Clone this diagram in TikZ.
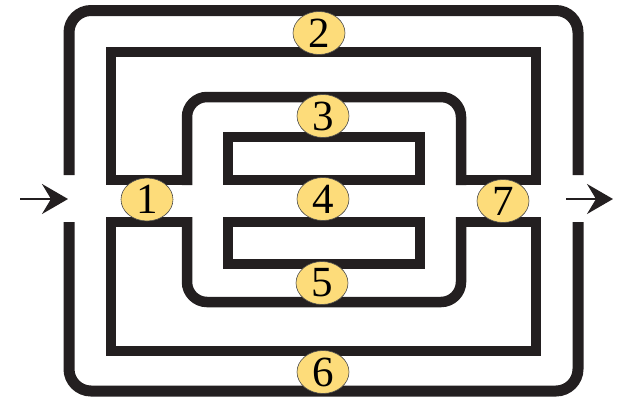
\documentclass[tikz,border=0pt]{standalone}
\usepackage{fontspec}
\setmainfont{Liberation Serif}
\usetikzlibrary{shapes.geometric,arrows.meta}
\definecolor{wallc}{HTML}{231F20}
\definecolor{badgefill}{HTML}{FDDC7A}
\begin{document}
\begin{tikzpicture}[x=1pt,y=-1pt,
  wall/.style={draw=wallc,line width=10.5pt,line join=miter},
  arch/.style={draw=wallc,line width=10.5pt,rounded corners=20pt},
  outerwall/.style={draw=wallc,line width=11pt,rounded corners=22pt},
  badge/.style={ellipse,draw=black!70,line width=0.6pt,fill=badgefill,
    minimum width=52pt,minimum height=43pt,inner sep=0pt,
    font=\fontsize{43}{43}\selectfont},
  flow/.style={draw=wallc,line width=2.2pt,-{Stealth[length=26pt,width=30pt,inset=9pt]}}]
\useasboundingbox (0,0) rectangle (619,397);
% outer wall, open on left and right
\draw[outerwall] (69,175) |- (578,10.5) -- (578,175);
\draw[outerwall] (69,222) |- (578,391) -- (578,222);
% upper wall
\draw[wall] (187,180) -- (111,180) -- (111,52) -- (536,52) -- (536,180) -- (461,180);
\draw[arch] (461,185) -- (461,97) -- (187,97) -- (187,185);
% lower wall
\draw[wall] (187,222) -- (111,222) -- (111,351) -- (536,351) -- (536,222) -- (461,222);
\draw[arch] (461,217) -- (461,302) -- (187,302) -- (187,217);
% inner rectangles
\draw[wall] (228,137) rectangle (420,180);
\draw[wall] (228,222) rectangle (420,264);
% arrows
\coordinate (inA) at (20,199);
\coordinate (inB) at (68,199);
\coordinate (outA) at (566,199);
\coordinate (outB) at (613,199);
\draw[flow] (inA) -- (inB);
\draw[flow] (outA) -- (outB);
% badges
\node[badge] (n1) at (147,199.5) {1};
\node[badge] (n2) at (319,33) {2};
\node[badge] (n3) at (323,116) {3};
\node[badge] (n4) at (323,199) {4};
\node[badge] (n5) at (322,283) {5};
\node[badge] (n6) at (323,372) {6};
\node[badge] (n7) at (503,201) {7};
\end{tikzpicture}
\end{document}
